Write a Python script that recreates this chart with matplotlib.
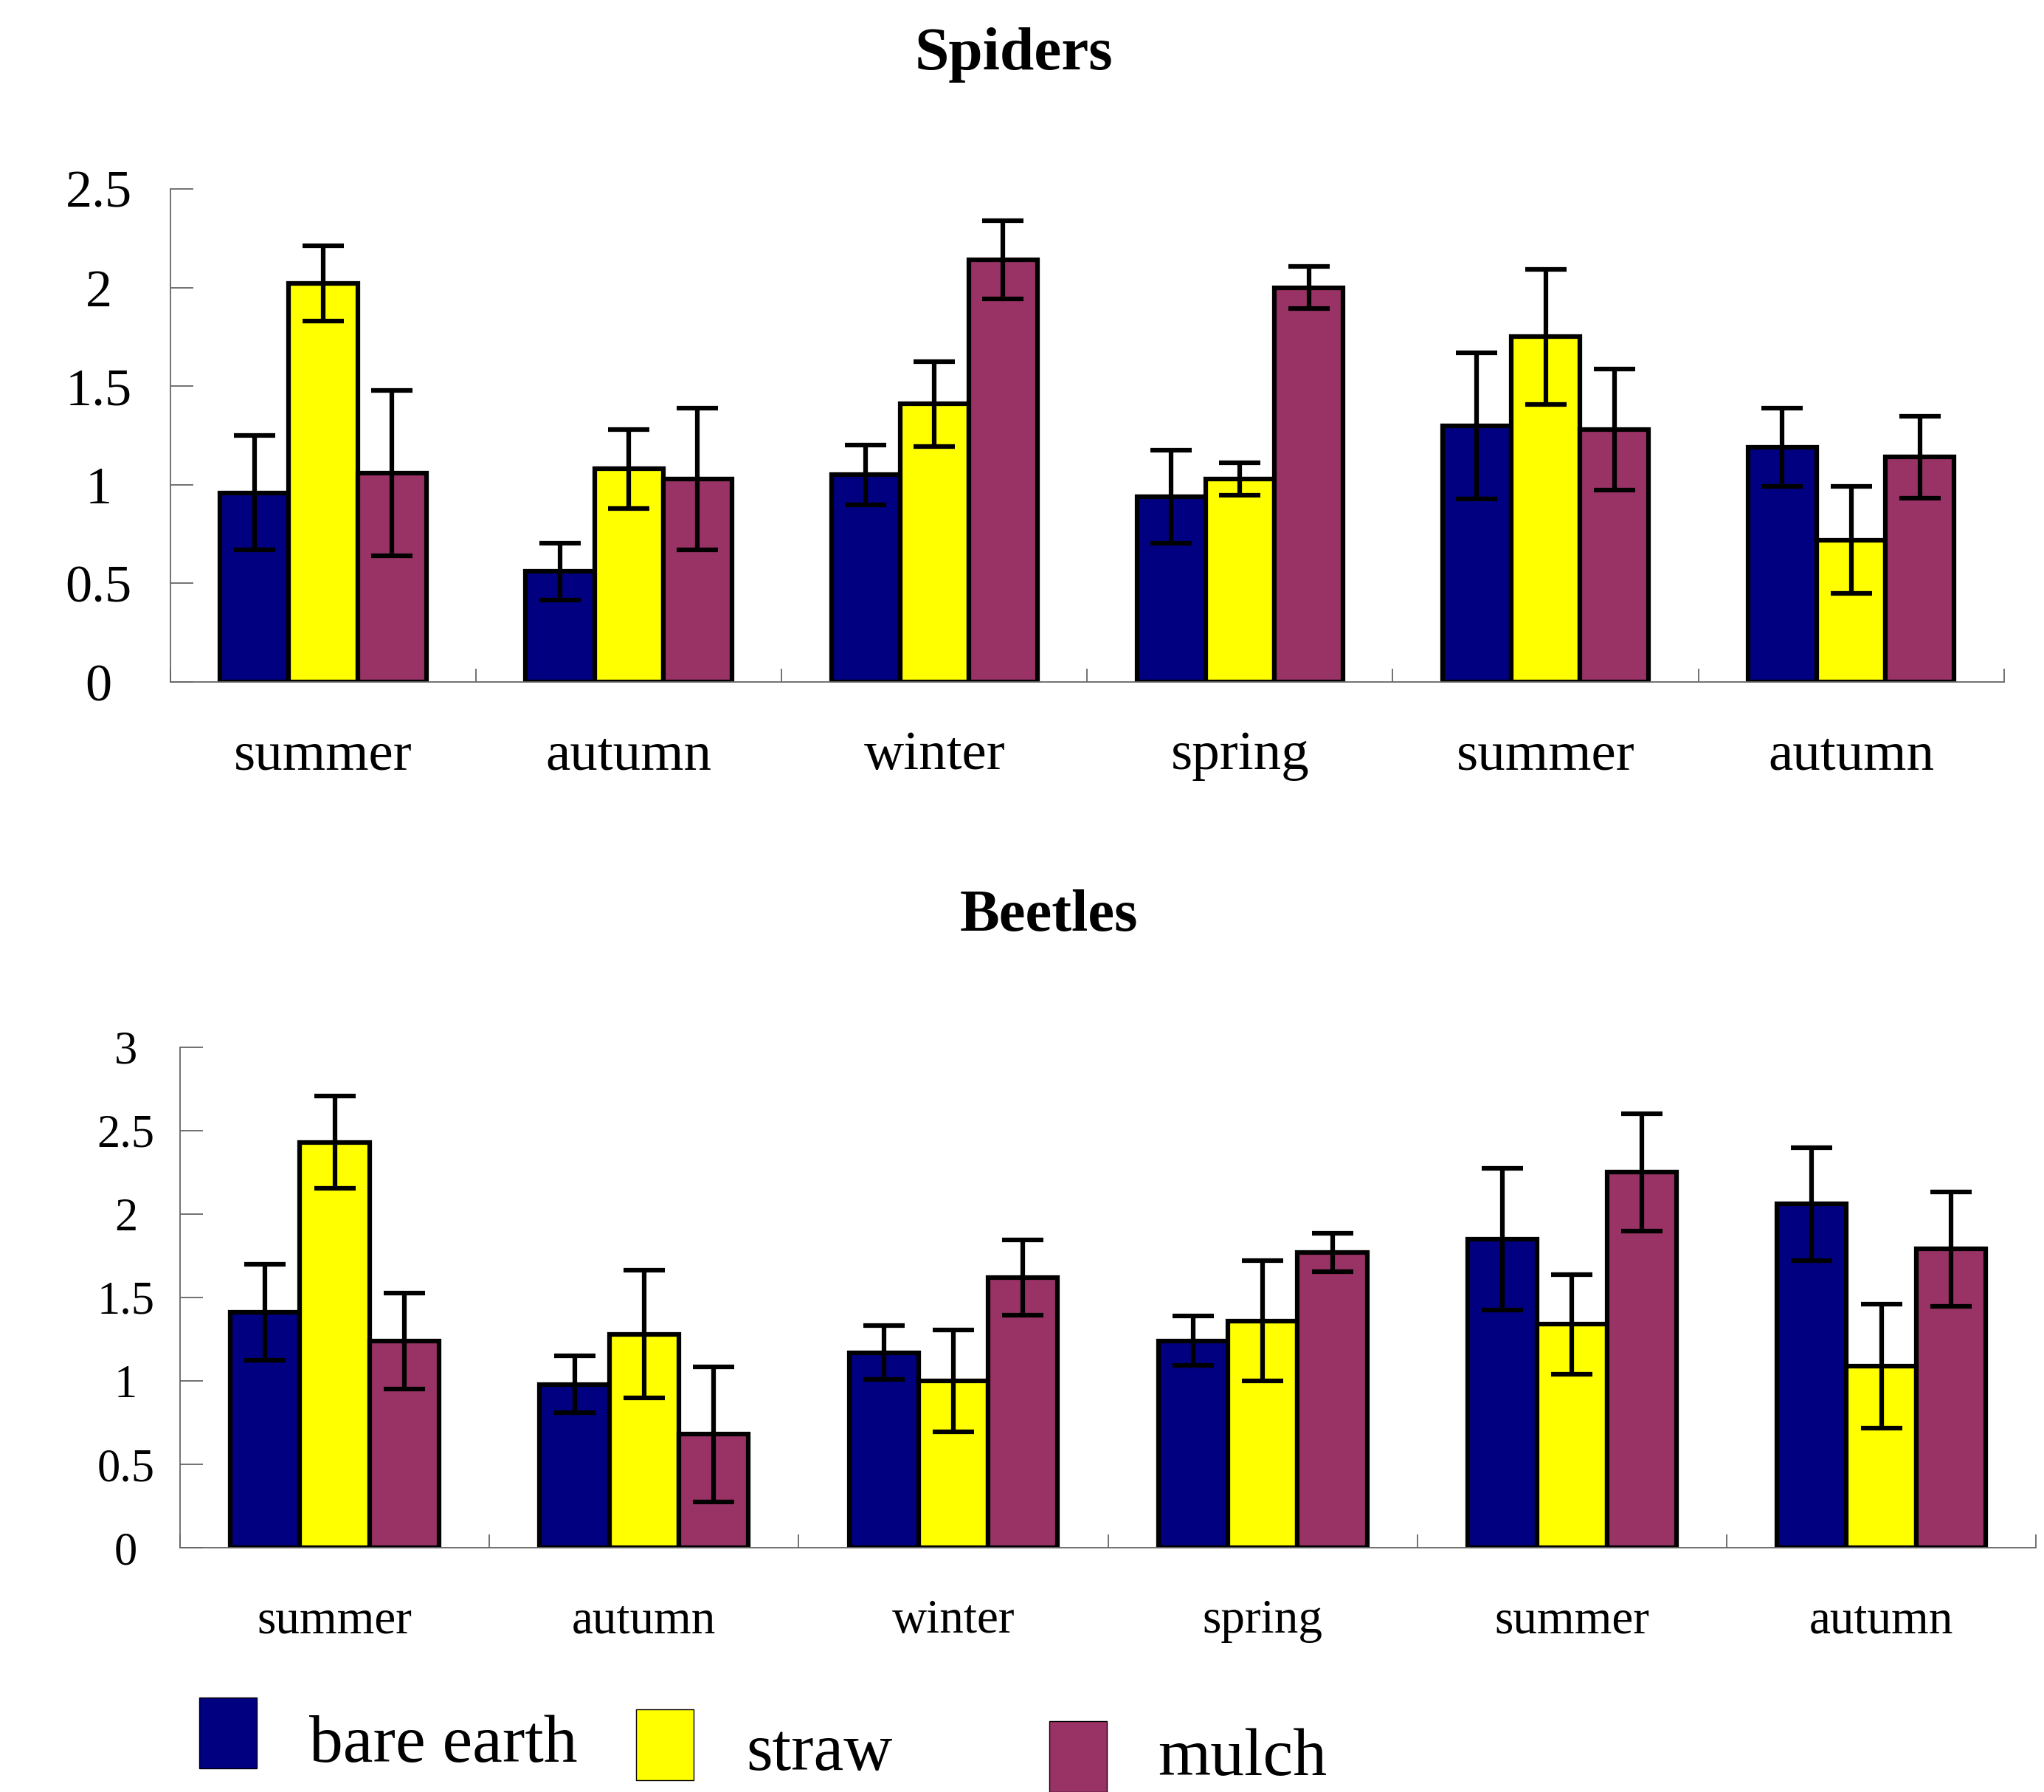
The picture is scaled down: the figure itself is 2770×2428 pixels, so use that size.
import numpy as np
import matplotlib
matplotlib.use("Agg")
import matplotlib.pyplot as plt
from matplotlib.patches import Rectangle

# --- data ---
seasons = ["summer", "autumn", "winter", "spring", "summer", "autumn"]
treatments = ["bare earth", "straw", "mulch"]
colors = ["#000080", "#FFFF00", "#993366"]

spiders_bare = [0.96, 0.56, 1.05, 0.94, 1.30, 1.19]
spiders_straw = [2.02, 1.08, 1.41, 1.03, 1.75, 0.72]
spiders_mulch = [1.06, 1.03, 2.14, 2.00, 1.28, 1.14]
spiders_bare_err = [0.29, 0.145, 0.153, 0.235, 0.37, 0.20]
spiders_straw_err = [0.19, 0.20, 0.215, 0.082, 0.342, 0.27]
spiders_mulch_err = [0.42, 0.36, 0.197, 0.107, 0.306, 0.207]

beetles_bare = [1.41, 0.98, 1.17, 1.24, 1.85, 2.06]
beetles_straw = [2.43, 1.28, 1.00, 1.36, 1.34, 1.09]
beetles_mulch = [1.24, 0.68, 1.62, 1.77, 2.25, 1.79]
beetles_bare_err = [0.287, 0.172, 0.16, 0.149, 0.424, 0.34]
beetles_straw_err = [0.276, 0.382, 0.307, 0.362, 0.298, 0.371]
beetles_mulch_err = [0.288, 0.405, 0.225, 0.117, 0.35, 0.342]

plt.rcParams["font.family"] = ["Liberation Serif", "DejaVu Serif"]

fig = plt.figure(figsize=(27.7, 24.28), dpi=100)


def draw_panel(ax, series, errors, ymax, yticks, ytick_labels, xfs, yfs, ypad, xpad):
    x = np.arange(len(seasons)) + 0.5
    width = 0.225
    for i, (vals, errs) in enumerate(zip(series, errors)):
        ax.bar(x + (i - 1) * width, vals, width, color=colors[i],
               edgecolor="black", linewidth=4.5, zorder=2)
        ax.errorbar(x + (i - 1) * width, vals, yerr=errs, fmt="none",
                    ecolor="black", elinewidth=4.5, capsize=20, capthick=4.5, zorder=3)
    ax.set_xlim(0, len(seasons))
    ax.set_ylim(0, ymax)
    ax.set_yticks(yticks)
    ax.set_yticklabels(ytick_labels)
    ax.set_xticks(x)
    ax.set_xticklabels(seasons)
    ax.set_xticks(np.arange(0, len(seasons) + 1), minor=True)
    for s in ["top", "right"]:
        ax.spines[s].set_visible(False)
    for s in ["left", "bottom"]:
        ax.spines[s].set_color("#666666")
        ax.spines[s].set_linewidth(1.3)
    ax.tick_params(axis="x", which="major", length=0, pad=xpad, labelsize=xfs)
    ax.tick_params(axis="x", which="minor", direction="in", length=13,
                   width=1.3, color="#666666")
    ax.tick_params(axis="y", direction="in", length=22, width=1.3,
                   color="#666666", pad=ypad, labelsize=yfs)
    for lab in ax.get_yticklabels():
        lab.set_horizontalalignment("center")


ax1 = fig.add_axes([0.0834, 0.6194, 0.897, 0.2752])
draw_panel(ax1, [spiders_bare, spiders_straw, spiders_mulch],
           [spiders_bare_err, spiders_straw_err, spiders_mulch_err],
           2.5, [0, 0.5, 1, 1.5, 2, 2.5], ["0", "0.5", "1", "1.5", "2", "2.5"],
           54, 52, 70, 48)

ax2 = fig.add_axes([0.0881, 0.1363, 0.908, 0.2793])
draw_panel(ax2, [beetles_bare, beetles_straw, beetles_mulch],
           [beetles_bare_err, beetles_straw_err, beetles_mulch_err],
           3, [0, 0.5, 1, 1.5, 2, 2.5, 3], ["0", "0.5", "1", "1.5", "2", "2.5", "3"],
           47, 45, 53, 50)

fig.text(0.496, 0.9695, "Spiders", ha="center", va="center",
         fontsize=60, fontweight="bold")
fig.text(0.513, 0.4885, "Beetles", ha="center", va="center",
         fontsize=58, fontweight="bold")

# staggered legend, as in the original
box_pos = [(0.0975, 0.0132), (0.3112, 0.0066), (0.5134, 0.0)]
text_pos = [(0.1513, 0.017), (0.365, 0.0125), (0.5664, 0.0095)]
for name, col, (bx, by), (tx, ty) in zip(treatments, colors, box_pos, text_pos):
    fig.add_artist(Rectangle((bx, by), 0.0282, 0.0395, transform=fig.transFigure,
                             facecolor=col, edgecolor="black", linewidth=1))
    fig.text(tx, ty, name, ha="left", va="baseline", fontsize=66)

fig.savefig("out.png", dpi=100, facecolor="white")
